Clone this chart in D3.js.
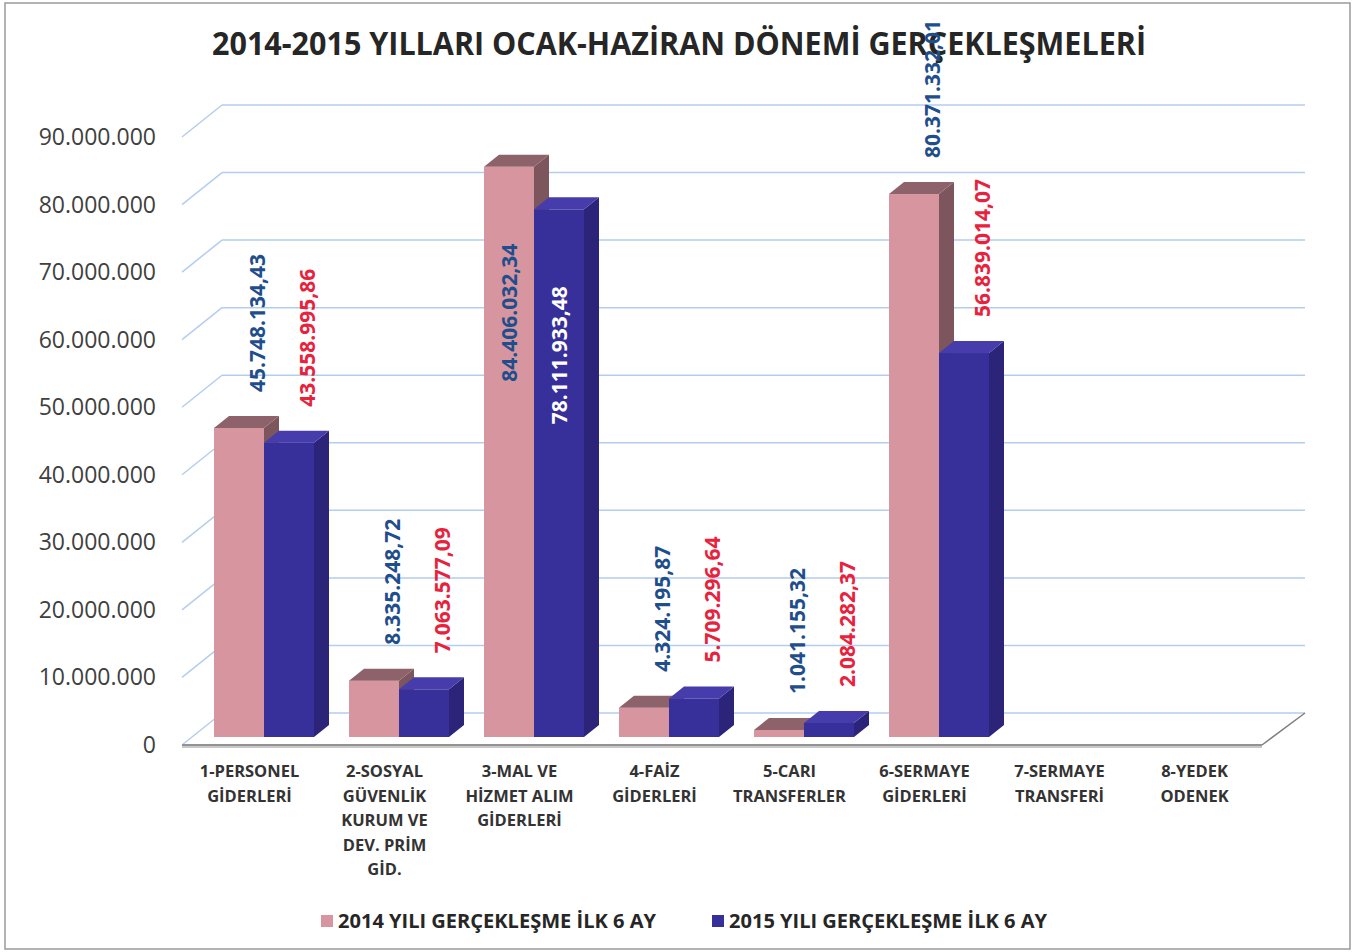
<!DOCTYPE html>
<html>
<head>
<meta charset="utf-8">
<script src="https://cdn.jsdelivr.net/npm/d3@7"></script>
<style>
  body { margin: 0; background: #fff; }
  text { font-family: "Open Sans", "DejaVu Sans", sans-serif; }
</style>
</head>
<body>
<script>
// data
var categories = ["1-PERSONEL GİDERLERİ", "2-SOSYAL GÜVENLİK KURUM VE DEV. PRİM GİD.",
    "3-MAL VE HİZMET ALIM GİDERLERİ", "4-FAİZ GİDERLERİ", "5-CARI TRANSFERLER",
    "6-SERMAYE GİDERLERİ", "7-SERMAYE TRANSFERİ", "8-YEDEK ODENEK"];
var categoryLines = [
    ["1-PERSONEL", "GİDERLERİ"],
    ["2-SOSYAL", "GÜVENLİK", "KURUM VE", "DEV. PRİM", "GİD."],
    ["3-MAL VE", "HİZMET ALIM", "GİDERLERİ"],
    ["4-FAİZ", "GİDERLERİ"],
    ["5-CARI", "TRANSFERLER"],
    ["6-SERMAYE", "GİDERLERİ"],
    ["7-SERMAYE", "TRANSFERİ"],
    ["8-YEDEK", "ODENEK"]
];
var values2014 = [45748134.43, 8335248.72, 84406032.34, 4324195.87, 1041155.32, 80371332.01, 0, 0];
var values2015 = [43558995.86, 7063577.09, 78111933.48, 5709296.64, 2084282.37, 56839014.07, 0, 0];
var seriesNames = ["2014 YILI GERÇEKLEŞME İLK 6 AY", "2015 YILI GERÇEKLEŞME İLK 6 AY"];
var yTicks = [0, 10000000, 20000000, 30000000, 40000000, 50000000, 60000000, 70000000, 80000000, 90000000];
var insideLabels = [2]; // categories whose labels sit inside the bars

var w = 1355;
var h = 952;

var tr = d3.formatLocale({decimal: ",", thousands: ".", grouping: [3], currency: ["", ""]});
var fmtTick = tr.format(",.0f");
var fmtVal = tr.format(",.2f");

var svg = d3.select("body").append("svg").attr("width", w).attr("height", h);

// frame
svg.append("rect").attr("x", 5).attr("y", 3).attr("width", 1345).attr("height", 946)
    .attr("fill", "#fff").attr("stroke", "#9a9a9a").attr("stroke-width", 1.5);

// scales
var k = d3.scaleLinear().domain([0, 90000000]).range([0, 608]);
var frontBase = 745, backBase = 713, barBase = 737;
var depthX = 40;
var x = d3.scaleBand().domain(categories).range([182, 1262]);

var barW = 50, dx = 15, dy = -12;
var pink = {front: "#d6959f", top: "#8e626b", side: "#7d555d"};
var blue = {front: "#38309a", top: "#463cab", side: "#2b2478"};

// floor
svg.append("polygon")
    .attr("points", [[182, frontBase], [1262, frontBase], [1262 + 43, backBase], [182 + depthX, backBase]].join(" "))
    .attr("fill", "#fff");

// gridlines on back wall + diagonals on left side
var grid = svg.append("g");
grid.selectAll("line.back").data(yTicks).enter().append("line")
    .attr("x1", 182 + depthX).attr("x2", 1305)
    .attr("y1", function(d) { return backBase - k(d); })
    .attr("y2", function(d) { return backBase - k(d); })
    .style("stroke", "#b3cdee").style("stroke-width", 1.5);
grid.selectAll("line.diag").data(yTicks).enter().append("line")
    .attr("x1", 182).attr("x2", 182 + depthX)
    .attr("y1", function(d) { return frontBase - k(d); })
    .attr("y2", function(d) { return backBase - k(d); })
    .style("stroke", "#b3cdee").style("stroke-width", 1.5);

// floor edges
svg.append("line").attr("x1", 182).attr("x2", 1262).attr("y1", frontBase + 1).attr("y2", frontBase + 1)
    .style("stroke", "#c8c8c8").style("stroke-width", 4);
svg.append("line").attr("x1", 182).attr("x2", 1262).attr("y1", frontBase).attr("y2", frontBase)
    .style("stroke", "#808080").style("stroke-width", 1.5);
svg.append("line").attr("x1", 1262).attr("x2", 1305).attr("y1", frontBase).attr("y2", backBase)
    .style("stroke", "#808080").style("stroke-width", 1.5);

// tick labels
svg.selectAll("text.tick").data(yTicks).enter().append("text")
    .attr("class", "tick")
    .attr("x", 156)
    .attr("y", function(d) { return frontBase - k(d) + 8; })
    .attr("text-anchor", "end")
    .attr("font-size", "23px")
    .attr("fill", "#404040")
    .text(function(d) { return fmtTick(d); });

// bars
function bar3d(g, bx, v, c) {
    var top = barBase - k(v);
    g.append("polygon")
        .attr("points", [[bx + barW, top], [bx + barW + dx, top + dy], [bx + barW + dx, barBase + dy], [bx + barW, barBase]].join(" "))
        .attr("fill", c.side);
    g.append("rect").attr("x", bx).attr("y", top).attr("width", barW).attr("height", barBase - top)
        .attr("fill", c.front);
    g.append("polygon")
        .attr("points", [[bx, top], [bx + dx, top + dy], [bx + barW + dx, top + dy], [bx + barW, top]].join(" "))
        .attr("fill", c.top);
}

var bars = svg.append("g");
categories.forEach(function(cat, i) {
    var x0 = x(cat) + 32;
    if (values2014[i] > 0) bar3d(bars, x0, values2014[i], pink);
    if (values2015[i] > 0) bar3d(bars, x0 + barW, values2015[i], blue);
});

// category labels
var catG = svg.selectAll("text.cat").data(categories).enter().append("text")
    .attr("class", "cat")
    .attr("text-anchor", "middle")
    .attr("font-size", "16.5px")
    .attr("font-weight", "bold")
    .attr("fill", "#333");
catG.each(function(d, i) {
    var t = d3.select(this);
    categoryLines[i].forEach(function(line, j) {
        t.append("tspan").attr("x", x(d) + x.bandwidth() / 2).attr("y", 777 + j * 24.5).text(line);
    });
});

// title
svg.append("text")
    .attr("x", 212).attr("y", 55)
    .attr("font-size", "32px").attr("font-weight", "bold").attr("fill", "#262626")
    .attr("textLength", 934).attr("lengthAdjust", "spacingAndGlyphs")
    .text("2014-2015 YILLARI OCAK-HAZİRAN DÖNEMİ GERÇEKLEŞMELERİ");

// value labels
function valueLabel(bx, v, i, color, insideColor) {
    if (!(v > 0)) return;
    var top = barBase - k(v);
    var inside = insideLabels.indexOf(i) >= 0;
    var lx = inside ? bx + barW / 2 : bx + barW / 2 + 18;
    var ly = inside ? top + 77 : top - 36;
    svg.append("text")
        .attr("transform", "translate(" + lx + "," + ly + ") rotate(-90)")
        .attr("dy", "0.36em")
        .attr("text-anchor", inside ? "end" : "start")
        .attr("font-size", "21px")
        .attr("font-weight", "bold")
        .attr("fill", inside ? insideColor : color)
        .text(fmtVal(v));
}
categories.forEach(function(cat, i) {
    var x0 = x(cat) + 32;
    valueLabel(x0, values2014[i], i, "#1f4e8c", "#1f4e8c");
    valueLabel(x0 + barW, values2015[i], i, "#e8213c", "#ffffff");
});

// legend
var legend = svg.append("g");
[pink, blue].forEach(function(c, i) {
    var lx = [321, 712][i];
    legend.append("rect").attr("x", lx).attr("y", 915).attr("width", 12).attr("height", 12).attr("fill", c.front);
    legend.append("text")
        .attr("x", lx + 17).attr("y", 928)
        .attr("font-size", "19px").attr("font-weight", "bold").attr("fill", "#262626")
        .attr("textLength", 318).attr("lengthAdjust", "spacingAndGlyphs")
        .text(seriesNames[i]);
});
</script>
</body>
</html>
